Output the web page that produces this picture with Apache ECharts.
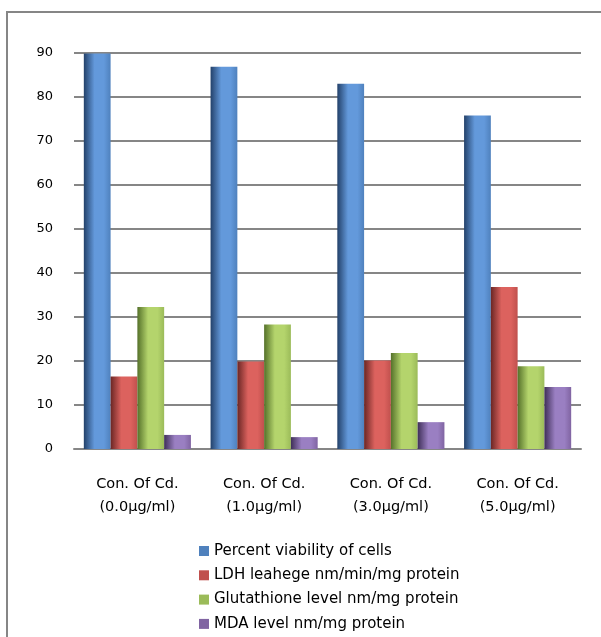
<!DOCTYPE html>
<html>
<head>
<meta charset="utf-8">
<script src="https://cdn.jsdelivr.net/npm/echarts@6/dist/echarts.min.js"></script>
<style>
  html, body { margin: 0; padding: 0; background: #fff; }
  #chart { width: 601px; height: 637px; }
</style>
</head>
<body>
<div id="chart"></div>
<script>
// categories (two-line labels)
const categories = [
  'Con. Of Cd.\n(0.0µg/ml)',
  'Con. Of Cd.\n(1.0µg/ml)',
  'Con. Of Cd.\n(3.0µg/ml)',
  'Con. Of Cd.\n(5.0µg/ml)'
]
const seriesNames = [
  'Percent viability of cells',
  'LDH leahege nm/min/mg protein',
  'Glutathione level nm/mg protein',
  'MDA level nm/mg protein'
]
const viability = [89.9, 86.9, 83.0, 75.8]
const ldh = [16.5, 19.9, 20.1, 36.8]
const glutathione = [32.3, 28.3, 21.8, 18.8]
const mda = [3.2, 2.7, 6.1, 14.1]

// base colour, dark edge, light middle
const palette = [
  ['#4f81bd', '#23416a', '#6399db'],
  ['#c0504d', '#6a2624', '#dc625e'],
  ['#9bbb59', '#55712a', '#b4d46c'],
  ['#8064a2', '#3f2f58', '#9a7fc2']
]

function cylinder(c) {
  return new echarts.graphic.LinearGradient(0, 0, 1, 0, [
    { offset: 0, color: c[1] },
    { offset: 0.4, color: c[2] },
    { offset: 0.75, color: c[2] },
    { offset: 1, color: c[0] }
  ])
}

const values = [viability, ldh, glutathione, mda]

const myChart = echarts.init(document.getElementById('chart'))
const option = {
  animation: false,
  textStyle: { fontFamily: 'DejaVu Sans' },
  // frame: only left and top edges are visible in the picture
  graphic: [{
    type: 'rect',
    shape: { x: 7, y: 12, width: 800, height: 800 },
    style: { fill: 'none', stroke: '#868686', lineWidth: 2 },
    silent: true
  }],
  grid: {
    left: 74,
    right: 20,
    top: 53,
    bottom: 188
  },
  legend: {
    orient: 'vertical',
    left: 199,
    top: 543,
    padding: 0,
    itemWidth: 10,
    itemHeight: 10,
    itemGap: 8.3,
    icon: 'rect',
    data: seriesNames.map((name, i) => ({ name: name, itemStyle: { color: palette[i][0] } })),
    textStyle: { fontSize: 15, color: '#000', lineHeight: 16 }
  },
  xAxis: {
    type: 'category',
    data: categories,
    axisLine: { lineStyle: { color: '#868686', width: 2 } },
    axisTick: { show: false },
    axisLabel: { color: '#000', fontSize: 14.5, lineHeight: 23, margin: 24 }
  },
  yAxis: {
    type: 'value',
    min: 0,
    max: 90,
    interval: 10,
    axisLine: { show: false },
    axisTick: { show: false },
    axisLabel: { color: '#000', fontSize: 13, margin: 21 },
    splitLine: { lineStyle: { color: '#868686', width: 2 } }
  },
  series: seriesNames.map((name, i) => ({
    name: name,
    type: 'bar',
    data: values[i],
    barGap: '0%',
    barCategoryGap: '15.5%',
    itemStyle: { color: cylinder(palette[i]) }
  }))
}
myChart.setOption(option)
</script>
</body>
</html>
